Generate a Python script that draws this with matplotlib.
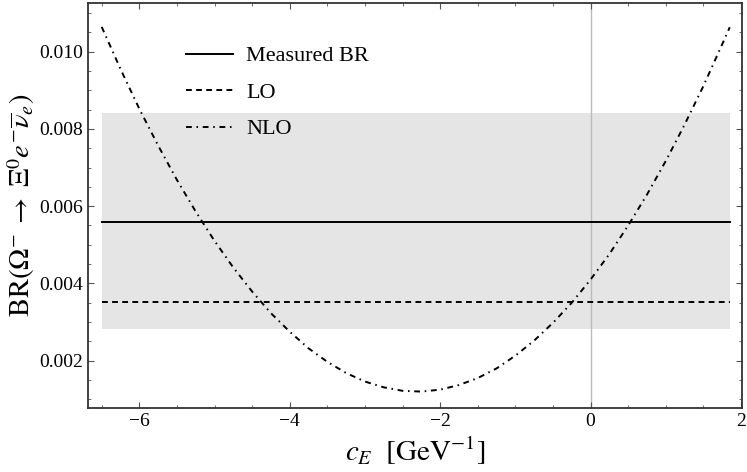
import numpy as np
import matplotlib
matplotlib.use("Agg")
import matplotlib.pyplot as plt
from matplotlib.ticker import MultipleLocator

plt.rcParams['font.family'] = ['Liberation Serif', 'DejaVu Serif']
plt.rcParams['mathtext.fontset'] = 'stix'

# values
c_E = [-6.5, -6.25, -6.0, -5.75, -5.5, -5.25, -5.0, -4.75, -4.5, -4.25,
       -4.0, -3.75, -3.5, -3.25, -3.0, -2.75, -2.5, -2.25, -2.0, -1.75,
       -1.5, -1.25, -1.0, -0.75, -0.5, -0.25, 0.0, 0.25, 0.5, 0.75,
       1.0, 1.25, 1.5, 1.75, 1.85]
br_nlo = [0.01064, 0.00955, 0.00852, 0.00757, 0.00668, 0.00586, 0.00510,
          0.00441, 0.00379, 0.00323, 0.00275, 0.00232, 0.00197, 0.00168,
          0.00146, 0.00131, 0.00122, 0.00120, 0.00125, 0.00137, 0.00155,
          0.00180, 0.00213, 0.00252, 0.00298, 0.00350, 0.00410, 0.00476,
          0.00550, 0.00630, 0.00717, 0.00811, 0.00911, 0.01019, 0.01063]
br_measured = 0.00558
br_err_low = 0.00283
br_err_high = 0.00842
br_lo = 0.00353
x_span = [-6.5, 1.85]

fig = plt.figure(figsize=(7.47, 4.72), dpi=100)
ax = fig.add_axes([0.118, 0.136, 0.875, 0.857])

# band = measured BR with its error
ax.fill_between(x_span, br_err_low, br_err_high, color='#e5e5e5', lw=0, zorder=0)
ax.axvline(0, color='#bbbbbb', lw=1.0, zorder=1)
ax.plot(x_span, [br_measured, br_measured], color='black', lw=1.4, label='Measured BR')
ax.plot(x_span, [br_lo, br_lo], color='black', lw=1.4, ls=(0, (3.0, 2.2)), label='LO')
ax.plot(c_E, br_nlo, color='black', lw=1.4, ls=(0, (3.0, 2.4, 0.8, 2.4)), label='NLO')

ax.set_xlim(-6.68, 2.01)
ax.set_ylim(0.00078, 0.01125)
ax.set_xticks([-6, -4, -2, 0, 2])
ax.set_yticks([0.002, 0.004, 0.006, 0.008, 0.010])
ax.set_xticklabels(['\u22126', '\u22124', '\u22122', '0', '2'])
ax.set_yticklabels(['0.002', '0.004', '0.006', '0.008', '0.010'])
ax.xaxis.set_minor_locator(MultipleLocator(0.5))
ax.yaxis.set_minor_locator(MultipleLocator(0.0005))
ax.tick_params(which='both', direction='in', top=True, right=True, colors='#555555',
               labelcolor='black', labelsize=14)
ax.tick_params(which='major', length=4, width=0.8)
ax.tick_params(which='minor', length=2.5, width=0.6)
for s in ax.spines.values():
    s.set_color('#333333')
    s.set_linewidth(1.3)

ax.set_xlabel(r'$c_E\ \ [\mathrm{GeV}^{-1}]$', fontsize=21, labelpad=4)
ax.set_ylabel(r'$\mathrm{BR}(\Omega^{-}\;\rightarrow\;\Xi^{0}e^{-}\overline{\nu}_{e})$',
              fontsize=20.5, labelpad=2)

ax.legend(loc='upper left', bbox_to_anchor=(0.15, 0.895), frameon=False,
          borderpad=0, borderaxespad=0, fontsize=16, handlelength=2.1,
          handletextpad=0.6, labelspacing=0.72)

fig.savefig('out.png', dpi=100)
